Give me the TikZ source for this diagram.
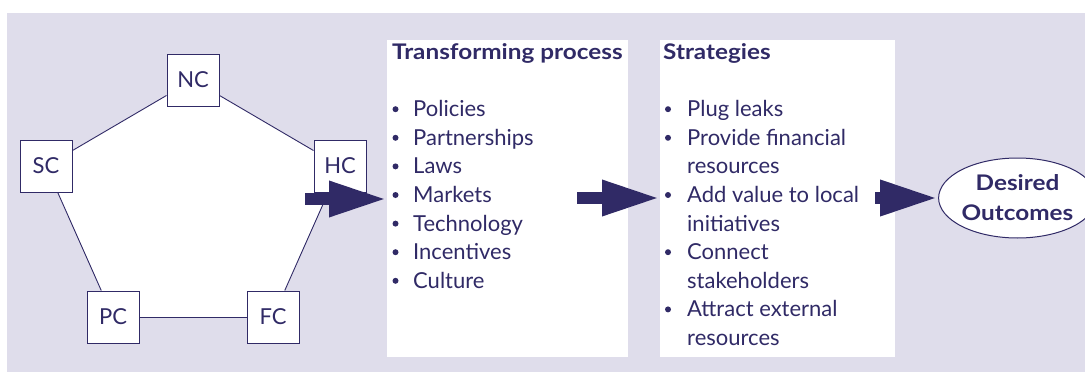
\documentclass[tikz,border=0pt]{standalone}
\usepackage{fontspec}
\setmainfont{Lato}[BoldFeatures={FakeStretch=1.13}]
\usetikzlibrary{arrows.meta,shapes.geometric}
\definecolor{navy}{RGB}{48,42,102}
\definecolor{lavender}{RGB}{223,221,235}
\begin{document}
\begin{tikzpicture}[x=1pt,y=-1pt,
  capbox/.style={draw=navy,line width=1pt,fill=white,minimum size=52pt,inner sep=0pt,
    text=navy,font=\fontsize{22}{26}\selectfont},
  ring/.style={draw=navy,line width=0.9pt},
  panel/.style={fill=white,inner sep=0pt,anchor=north west},
  heading/.style={anchor=base west,inner sep=0pt,text=navy,font=\bfseries\fontsize{21.5}{26}\selectfont},
  entry/.style={anchor=base west,inner sep=0pt,text=navy,font=\fontsize{22}{26}\selectfont},
  dot/.style={circle,fill=navy,inner sep=0pt,minimum size=6pt},
  flow/.style={draw=navy,line width=12pt,-{Triangle[length=58pt,width=33pt]}},
  goalshape/.style={ellipse,draw=navy,line width=1pt,fill=white,minimum width=131pt,
    minimum height=80pt,inner sep=0pt,align=center,text=navy,
    font=\bfseries\fontsize{21.5}{30}\selectfont},
]
\useasboundingbox (0,0) rectangle (1085,372);
\fill[lavender] (7,13) rectangle (1085,372);

% capitals arranged on a pentagon
\coordinate (pnc) at (193,80);
\coordinate (phc) at (340,166);
\coordinate (pfc) at (273,317);
\coordinate (ppc) at (113,317);
\coordinate (psc) at (46,166);
\fill[white] (pnc) -- (phc) -- (pfc) -- (ppc) -- (psc) -- cycle;

\node[capbox] (NC) at (pnc) {NC};
\node[capbox] (HC) at (phc) {HC};
\node[capbox] (FC) at (pfc) {FC};
\node[capbox] (PC) at (ppc) {PC};
\node[capbox] (SC) at (psc) {SC};
\draw[ring] (NC) -- (HC);
\draw[ring] (HC) -- (FC);
\draw[ring] (FC) -- (PC);
\draw[ring] (PC) -- (SC);
\draw[ring] (SC) -- (NC);

% transforming process panel
\node[panel,minimum width=241pt,minimum height=317pt] (tp) at (387,40) {};
\node[heading] (tph) at (392,59.3) {Transforming process};
\foreach \t [count=\i from 0] in {Policies,Partnerships,Laws,Markets,Technology,Incentives,Culture}{
  \node[dot] (tpb\i) at (395.5,{109.2+28.6*\i}) {};
  \node[entry] (tpt\i) at (413,{116.7+28.6*\i}) {\t};
}

% strategies panel
\node[panel,minimum width=235pt,minimum height=317pt] (st) at (660,40) {};
\node[heading] (sth) at (663,59.3) {Strategies};
\foreach \b/\t [count=\i from 0] in {1/Plug leaks,1/Provide financial,0/resources,
    1/Add value to local,0/initiatives,1/Connect,0/stakeholders,1/Attract external,0/resources}{
  \ifnum\b=1 \node[dot] (stb\i) at (668,{109.2+28.6*\i}) {};\fi
  \node[entry] (stt\i) at (687,{116.7+28.6*\i}) {\t};
}

% outcome
\node[goalshape] (goal) at (1017.5,198) {Desired\\Outcomes};

% block arrows
\coordinate (a1) at (305,199);
\coordinate (a2) at (577,198);
\coordinate (a3) at (875,198);
\draw[flow] (a1) -- (a1 -| tp.west);
\draw[flow] (a2) -- (a2 -| st.west);
\draw[flow] (a3) -- (goal.west);
\end{tikzpicture}
\end{document}
